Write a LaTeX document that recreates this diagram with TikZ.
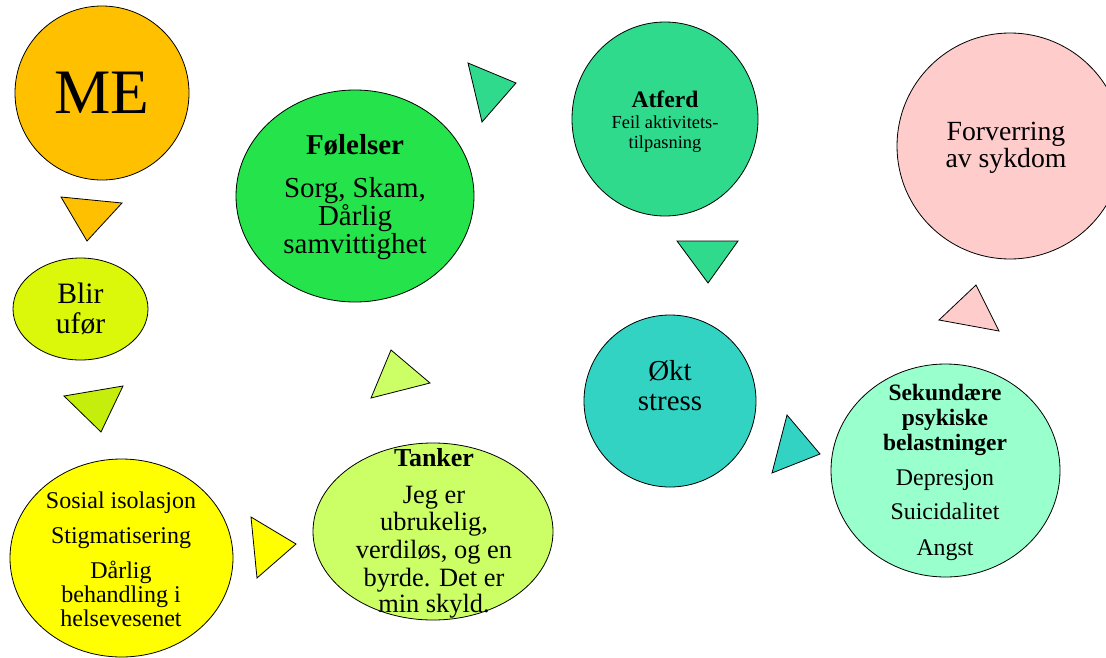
\documentclass[tikz,border=0pt]{standalone}
\usepackage{fontspec}
\setmainfont{Liberation Serif}
\usetikzlibrary{shapes.geometric}
\definecolor{cME}{HTML}{FFC000}
\definecolor{cBlir}{HTML}{DBF70A}
\definecolor{cBlirT}{HTML}{C6EE0C}
\definecolor{cSos}{HTML}{FFFF00}
\definecolor{cTank}{HTML}{CCFF66}
\definecolor{cFol}{HTML}{24E34B}
\definecolor{cAtf}{HTML}{2FDA8D}
\definecolor{cStr}{HTML}{33D3C3}
\definecolor{cSek}{HTML}{99FFCC}
\definecolor{cFor}{HTML}{FFCCCC}
\tikzset{
  blob/.style={ellipse, draw=black, line width=0.6pt, inner sep=0pt, outer sep=0pt},
  tri/.style={draw=black, line width=0.6pt, line join=miter},
  txt/.style={anchor=base, inner sep=0pt, outer sep=0pt},
}
\begin{document}
\begin{tikzpicture}[x=0.75pt, y=-0.75pt]
\useasboundingbox (0,0) rectangle (1106,657);

% shapes
\node[blob, fill=cME, minimum width=130.5pt, minimum height=130.5pt] (me) at (102,93) {};
\node[blob, fill=cBlir, minimum width=101.25pt, minimum height=76.5pt] (blir) at (80.5,309) {};
\node[blob, fill=cSos, minimum width=167.25pt, minimum height=148.5pt] (sos) at (121.5,558) {};
\node[blob, fill=cFol, minimum width=178.5pt, minimum height=159pt] (fol) at (355,196) {};
\node[blob, fill=cTank, minimum width=180pt, minimum height=132.75pt] (tank) at (433,531.5) {};
\node[blob, fill=cAtf, minimum width=139.5pt, minimum height=145.5pt] (atf) at (665,119) {};
\node[blob, fill=cStr, minimum width=129pt, minimum height=129pt] (str) at (670,401) {};
\node[blob, fill=cSek, minimum width=171.75pt, minimum height=159.75pt] (sek) at (945.5,470.5) {};
\node[blob, fill=cFor, minimum width=169.5pt, minimum height=169.5pt] (for) at (1010,146) {};

% triangles (arrows)
\draw[tri, fill=cME] (61,197) -- (122,203) -- (87,241) -- cycle;
\draw[tri, fill=cBlirT] (64,396) -- (123,386) -- (101,432) -- cycle;
\draw[tri, fill=cSos] (251,517) -- (296,544) -- (257,578) -- cycle;
\draw[tri, fill=cTank] (391,350) -- (430,383) -- (371,398) -- cycle;
\draw[tri, fill=cAtf] (468,63) -- (516,83) -- (482,122) -- cycle;
\draw[tri, fill=cAtf] (677,241) -- (738,241) -- (708,283) -- cycle;
\draw[tri, fill=cStr] (787,415) -- (820,454) -- (772,473) -- cycle;
\draw[tri, fill=cFor] (976,285) -- (999,331) -- (939,320) -- cycle;

% texts
\node[txt, font=\fontsize{47.5}{50}\selectfont] (me-t) at (102,113) {ME};

\node[txt, font=\fontsize{22.2}{24}\selectfont] (blir-t1) at (80.5,303) {Blir};
\node[txt, font=\fontsize{22.2}{24}\selectfont] (blir-t2) at (80.5,333) {ufør};

\node[txt, font=\fontsize{18}{20}\selectfont] (sos-t1) at (121,508) {Sosial isolasjon};
\node[txt, font=\fontsize{18}{20}\selectfont] (sos-t2) at (121,543) {Stigmatisering};
\node[txt, font=\fontsize{18}{20}\selectfont] (sos-t3) at (121,578) {Dårlig};
\node[txt, font=\fontsize{18}{20}\selectfont] (sos-t4) at (121,602) {behandling i};
\node[txt, font=\fontsize{18}{20}\selectfont] (sos-t5) at (121,626) {helsevesenet};

\node[txt, font=\fontsize{21.7}{24}\selectfont\bfseries] (fol-t1) at (355,154) {Følelser};
\node[txt, font=\fontsize{21.7}{24}\selectfont] (fol-t2) at (355,197) {Sorg, Skam,};
\node[txt, font=\fontsize{21.7}{24}\selectfont] (fol-t3) at (355,225) {Dårlig};
\node[txt, font=\fontsize{21.7}{24}\selectfont] (fol-t4) at (355,253) {samvittighet};

\node[txt, font=\fontsize{19.5}{22}\selectfont\bfseries] (tank-t1) at (434,466) {Tanker};
\node[txt, font=\fontsize{19.8}{22}\selectfont] (tank-t2) at (434,503) {Jeg er};
\node[txt, font=\fontsize{19.8}{22}\selectfont] (tank-t3) at (434,530) {ubrukelig,};
\node[txt, font=\fontsize{19.8}{22}\selectfont] (tank-t4) at (434,558) {verdiløs, og en};
\node[txt, font=\fontsize{19.8}{22}\selectfont] (tank-t5) at (434,586) {byrde. Det er};
\node[txt, font=\fontsize{19.8}{22}\selectfont] (tank-t6) at (434,612) {min skyld.};

\node[txt, font=\fontsize{17.7}{20}\selectfont\bfseries] (atf-t1) at (665,107) {Atferd};
\node[txt, font=\fontsize{13.8}{16}\selectfont] (atf-t2) at (665,128) {Feil aktivitets-};
\node[txt, font=\fontsize{13.8}{16}\selectfont] (atf-t3) at (665,148) {tilpasning};

\node[txt, font=\fontsize{21.7}{24}\selectfont] (str-t1) at (670,380) {Økt};
\node[txt, font=\fontsize{21.7}{24}\selectfont] (str-t2) at (670,410) {stress};

\node[txt, font=\fontsize{17.6}{20}\selectfont\bfseries] (sek-t1) at (945,400) {Sekundære};
\node[txt, font=\fontsize{17.6}{20}\selectfont\bfseries] (sek-t2) at (945,425) {psykiske};
\node[txt, font=\fontsize{17.6}{20}\selectfont\bfseries] (sek-t3) at (945,450) {belastninger};
\node[txt, font=\fontsize{17.9}{20}\selectfont] (sek-t4) at (945,485) {Depresjon};
\node[txt, font=\fontsize{17.9}{20}\selectfont] (sek-t5) at (945,519) {Suicidalitet};
\node[txt, font=\fontsize{17.9}{20}\selectfont] (sek-t6) at (945,555) {Angst};

\node[txt, font=\fontsize{20.8}{24}\selectfont] (for-t1) at (1006,140) {Forverring};
\node[txt, font=\fontsize{20.8}{24}\selectfont] (for-t2) at (1006,167) {av sykdom};
\end{tikzpicture}
\end{document}
